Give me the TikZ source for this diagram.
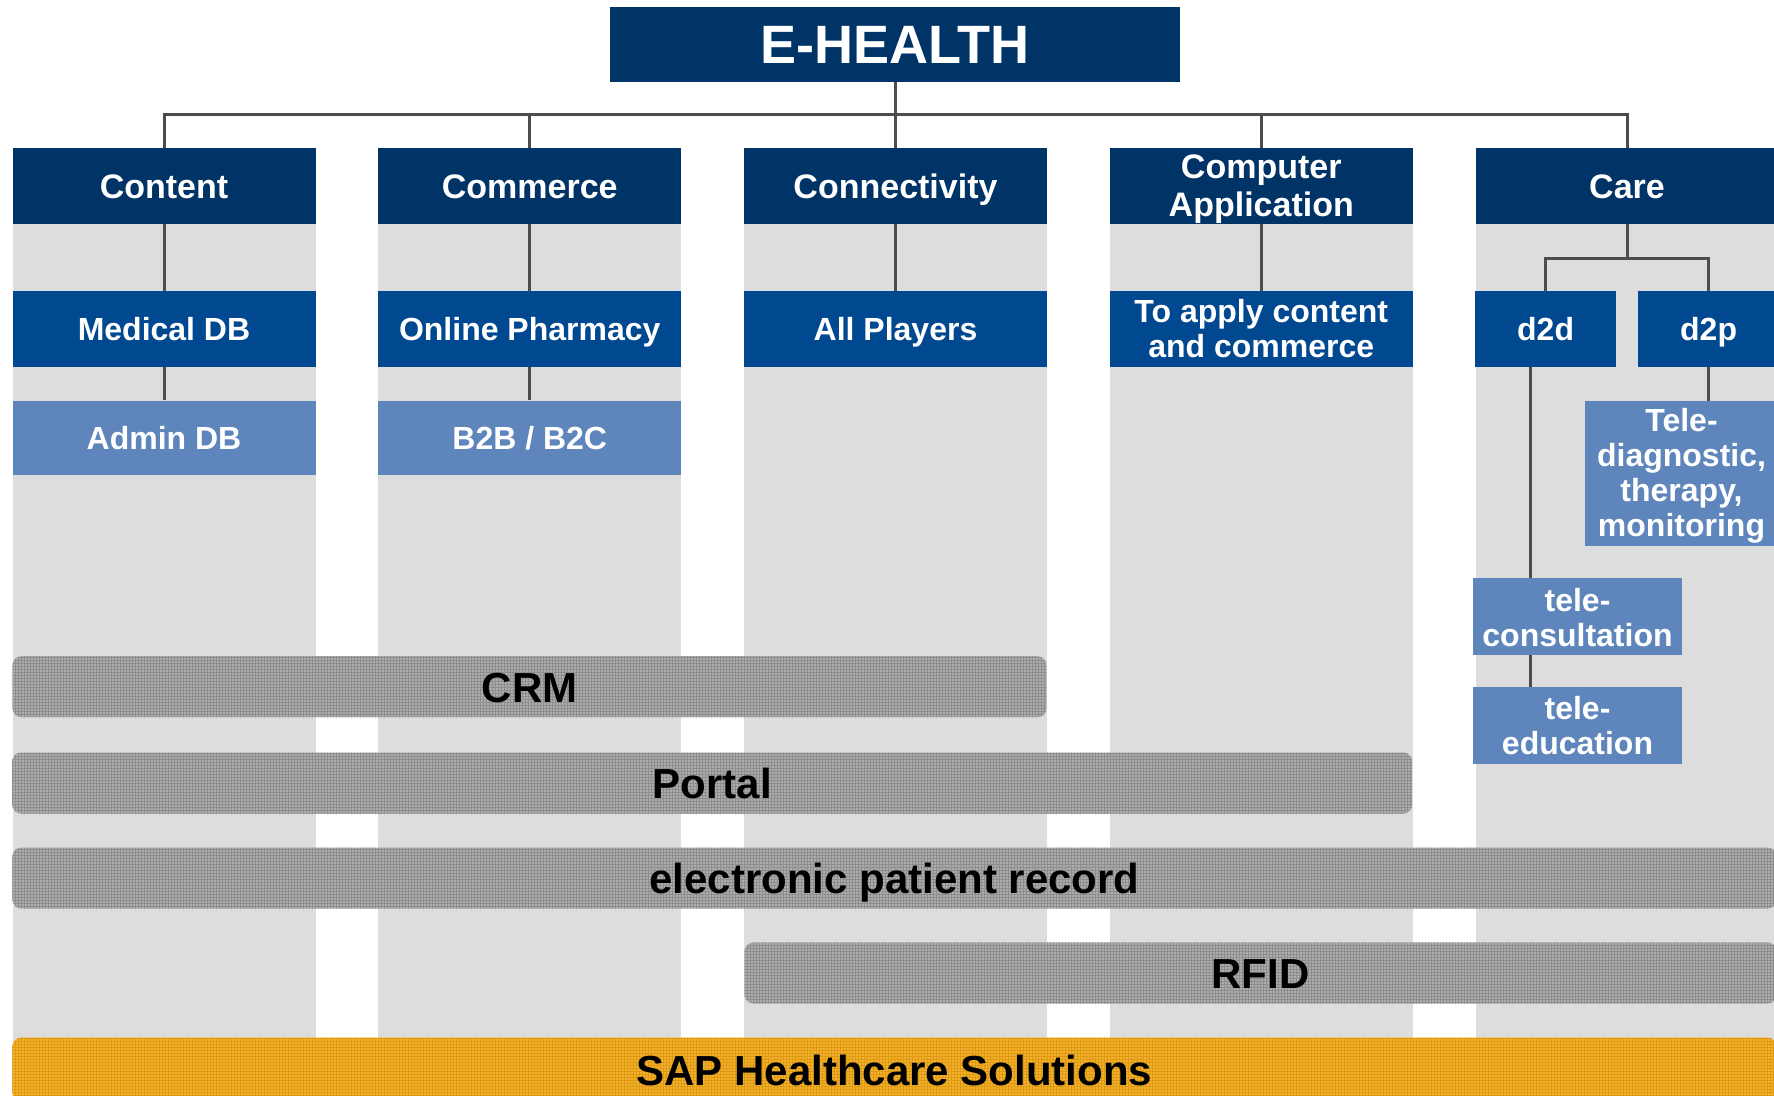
\documentclass[tikz,border=0pt]{standalone}
\usepackage{fontspec}
\setmainfont{Liberation Sans}
\usetikzlibrary{patterns}
\definecolor{navy}{HTML}{003366}
\definecolor{midblue}{HTML}{004990}
\definecolor{lightblue}{HTML}{5E86BC}
\definecolor{colgray}{HTML}{DDDDDD}
\definecolor{linegray}{HTML}{4D4D4D}
\definecolor{bargray}{HTML}{ADADAD}
\definecolor{bargrid}{HTML}{8E8E8E}
\definecolor{sapfill}{HTML}{F3B12E}
\definecolor{sapgrid}{HTML}{DE9A12}
\tikzset{
  lvlzero/.style={fill=navy, text=white, inner sep=0pt, minimum width=570pt, minimum height=75pt,
    font=\fontsize{54}{60}\selectfont\bfseries, text height=38.9pt, text depth=0pt},
  lvlone/.style={fill=navy, text=white, inner sep=0pt, minimum width=303pt, minimum height=76pt,
    align=center, font=\fontsize{34}{37.5}\selectfont\bfseries},
  onebig/.style={text height=24.5pt, text depth=0pt},
  lvltwo/.style={fill=midblue, text=white, inner sep=0pt, minimum width=303pt, minimum height=76pt,
    align=center, font=\fontsize{32}{35}\selectfont\bfseries},
  lvlthree/.style={fill=lightblue, text=white, inner sep=0pt, minimum width=303pt, minimum height=74pt,
    align=center, font=\fontsize{32}{35}\selectfont\bfseries},
  onesmall/.style={text height=23pt, text depth=0pt},
  boxtext/.style={text=white, align=center, inner sep=0pt, font=\fontsize{32}{35}\selectfont\bfseries},
  conn/.style={draw=linegray, line width=3pt, line join=miter},
  barbox/.style={fill=bargray, rounded corners=9pt, inner sep=0pt, minimum height=61pt, text=black,
    font=\fontsize{42}{48}\selectfont\bfseries, text height=31.9pt, text depth=0pt,
    postaction={pattern=grid, pattern color=bargrid}},
  sapbox/.style={fill=sapfill, rounded corners=9pt, inner sep=0pt, minimum height=64pt, text=black,
    font=\fontsize{42}{48}\selectfont\bfseries, text height=31.9pt, text depth=0pt,
    postaction={pattern=grid, pattern color=sapgrid}}
}
\begin{document}
\begin{tikzpicture}[x=1pt, y=-1pt]
\useasboundingbox (0,0) rectangle (1774,1095);
% column backgrounds
\foreach \cx in {164, 529.75, 895.5, 1261.25, 1627} {
  \fill[colgray] (\cx-151.5,148) rectangle (\cx+151.5,1095);
}
% coordinates for connector routing
\coordinate (bus) at (0,114.5);
\coordinate (carebus) at (0,258);
\coordinate (dline) at (1530,0);
% top
\node[lvlzero] (eh) at (895,44.2) {E-HEALTH};
% level one
\node[lvlone, onebig] (content) at (164,186.2) {Content};
\node[lvlone, onebig] (commerce) at (529.75,186.2) {Commerce};
\node[lvlone, onebig] (connectivity) at (895.5,186.2) {Connectivity};
\node[lvlone] (compapp) at (1261.25,186.2) {};
\node[lvlone, onebig] (care) at (1627,186.2) {Care};
\node[font=\fontsize{34}{37.5}\selectfont\bfseries, text=white, align=center, inner sep=0pt] (compapptext) at (1261.25,189) {Computer\\Application};
% level two
\node[lvltwo, onesmall] (meddb) at (164,328.7) {Medical DB};
\node[lvltwo, onesmall] (pharm) at (529.75,328.7) {Online Pharmacy};
\node[lvltwo, onesmall] (players) at (895.5,328.7) {All Players};
\node[lvltwo] (apply) at (1261.25,328.7) {To apply content\\and commerce};
\node[lvltwo, onesmall, minimum width=140.5pt] (d2d) at (1545.6,328.7) {d2d};
\node[lvltwo, onesmall, minimum width=140.5pt] (d2p) at (1708.6,328.7) {d2p};
% level three
\node[lvlthree, onesmall] (admin) at (164,437.5) {Admin DB};
\node[lvlthree, onesmall] (b2b) at (529.75,437.5) {B2B / B2C};
\node[lvlthree, minimum width=193pt, minimum height=145pt] (telediag) at (1681.5,473.5) {};
\node[boxtext] (telediagtext) at (1681.5,475.8) {Tele-\\diagnostic,\\therapy,\\monitoring};
\node[lvlthree, minimum width=209pt, minimum height=77pt] (telecons) at (1577.5,616.5) {};
\node[boxtext] (teleconstext) at (1577.5,617.6) {tele-\\consultation};
\node[lvlthree, minimum width=209pt, minimum height=77pt] (teleedu) at (1577.5,725.5) {tele-\\education};
% connectors
\draw[conn] (eh.south) -- (eh.south |- bus);
\draw[conn] (content.north) -- (content.north |- bus) -- (care.north |- bus) -- (care.north);
\draw[conn] (commerce.north |- bus) -- (commerce.north);
\draw[conn] (connectivity.north |- bus) -- (connectivity.north);
\draw[conn] (compapp.north |- bus) -- (compapp.north);
\draw[conn] (content.south) -- (meddb.north);
\draw[conn] (meddb.south) -- (admin.north);
\draw[conn] (commerce.south) -- (pharm.north);
\draw[conn] (pharm.south) -- (b2b.north);
\draw[conn] (connectivity.south) -- (players.north);
\draw[conn] (compapp.south) -- (apply.north);
\draw[conn] (care.south) -- (care.south |- carebus);
\draw[conn] (d2d.north) -- (d2d.north |- carebus) -- (d2p.north |- carebus) -- (d2p.north);
\draw[conn] (d2p.south) -- (d2p.south |- telediag.north);
\draw[conn] (dline |- d2d.south) -- (dline |- telecons.north);
\draw[conn] (dline |- telecons.south) -- (dline |- teleedu.north);
% horizontal bars
\node[barbox, minimum width=1034pt] (crm) at (529.5,686.7) {CRM};
\node[barbox, minimum width=1400pt] (portal) at (712.2,783) {Portal};
\node[barbox, minimum width=1764pt] (epr) at (894.4,878) {electronic patient record};
\node[barbox, minimum width=1032pt] (rfid) at (1260.5,973) {RFID};
\node[sapbox, minimum width=1764pt] (sap) at (894.4,1069.5) {SAP Healthcare Solutions};
\end{tikzpicture}
\end{document}
